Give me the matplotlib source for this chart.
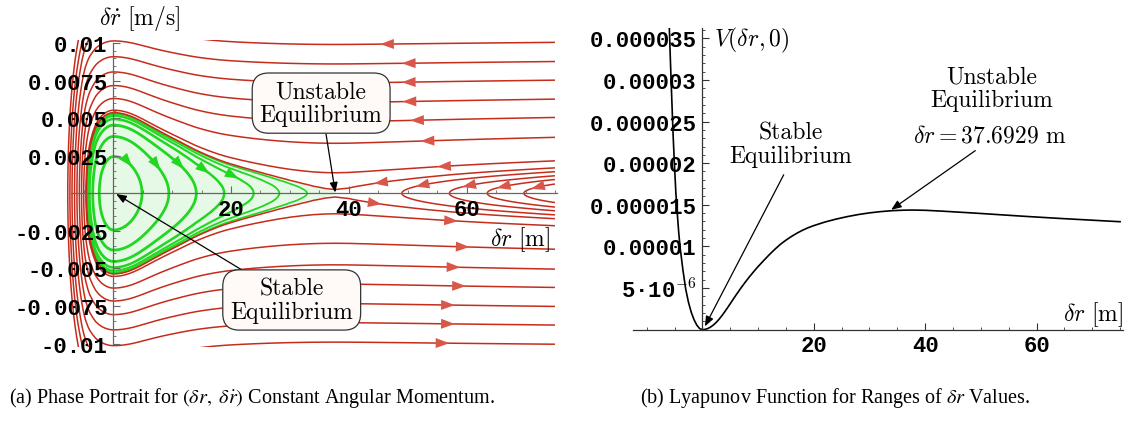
import numpy as np
import matplotlib.pyplot as plt
from matplotlib.path import Path
from matplotlib.ticker import MultipleLocator

plt.rcParams['mathtext.fontset'] = 'cm'

# V(dr, 0), V in units of 1e-5
dr = [-8.0, -7.75, -7.5, -7.25, -7.0, -6.75, -6.5, -6.25, -6.0, -5.75, -5.5, -5.25,
      -5.0, -4.75, -4.5, -4.25, -4.0, -3.5, -3.0, -2.5, -2.0, -1.5, -1.0, -0.5, 0.0,
      0.5, 1.0, 1.5, 2.0, 2.5, 3.0, 3.5, 4.0, 4.5, 5.0, 5.5, 6.0, 6.5, 7.0, 7.5, 8.0,
      8.5, 9.0, 9.5, 10, 11, 12, 13, 14, 15, 16, 17, 18, 19, 20, 22, 24, 26, 28, 30,
      32, 34, 36, 37.69, 40, 43, 46, 49, 52, 55, 58, 61, 64, 67, 70, 73, 75]
V = [9.9, 8.9, 7.98, 7.12, 6.33, 5.6, 4.93, 4.32, 3.76, 3.25, 2.78, 2.33,
     1.96, 1.63, 1.39, 1.17, 0.99, 0.72, 0.49, 0.33, 0.21, 0.12, 0.055, 0.014, 0.0,
     0.004, 0.015, 0.033, 0.058, 0.089, 0.126, 0.168, 0.214, 0.262, 0.312, 0.362, 0.412,
     0.46, 0.508, 0.553, 0.597, 0.64, 0.68, 0.72, 0.758, 0.83, 0.90, 0.965, 1.025, 1.075,
     1.12, 1.16, 1.195, 1.225, 1.25, 1.293, 1.328, 1.358, 1.383, 1.403, 1.418, 1.429,
     1.435, 1.437, 1.434, 1.424, 1.412, 1.400, 1.387, 1.374, 1.361, 1.349, 1.337, 1.326,
     1.315, 1.304, 1.297]

# energy levels (same units) of the drawn trajectories
green_E = [0.30, 0.715, 1.03, 1.22, 1.325, 1.385, 1.423]
green_arrow_x = [3.1, 7.9, 11.9, 16.1, 21.0]
red_E = [1.44, 1.53, 1.99, 2.57, 3.26, 4.13, 5.14, 6.34]
red_top_arrow_x = [45.3, 56.8, 55.6, 54.1, 53.2, 51.9, 51.0, 49.8]
red_bot_arrow_x = [44.9, 57.7, 57.4, 56.5, 55.6, 55.0, 54.4, 53.4]
left_E = [7.5, 8.8]
hairpin_E = [1.316, 1.339, 1.365, 1.400]
hairpin_arrow_x = [71.3, 65.7, 59.7, 51.8]

a_yticks = [0.01, 0.0075, 0.005, 0.0025, -0.0025, -0.005, -0.0075, -0.01]
a_ylabels = ['0.01', '0.0075', '0.005', '0.0025', '-0.0025', '-0.005', '-0.0075', '-0.01']
xticks = [20, 40, 60]
b_yticks = [5e-6, 1e-5, 1.5e-5, 2e-5, 2.5e-5, 3e-5, 3.5e-5]
b_ylabels = ['5·10$^{-6}$', '0.00001', '0.000015', '0.00002', '0.000025', '0.00003', '0.000035']

RED = '#c62c1c'
RED_HEAD = '#d9574a'
GREEN = '#22d622'
FILL = '#e6f9e6'
TICKFONT = dict(fontfamily='Liberation Mono', fontweight='bold', fontsize=16)


def pieces(path):
    verts, codes = path.vertices, path.codes
    if codes is None:
        return [verts]
    starts = list(np.nonzero(codes == Path.MOVETO)[0]) + [len(verts)]
    return [verts[starts[j]:starts[j + 1]] for j in range(len(starts) - 1)]


def arrow_on(ax, path, xa, upper, left, color):
    best = None
    for poly in pieces(path):
        for i in range(len(poly)):
            if (poly[i, 1] > 0) != upper:
                continue
            d = abs(poly[i, 0] - xa)
            if best is None or d < best[0]:
                best = (d, poly, i)
    if best is None:
        return
    _, poly, i = best
    a = poly[max(i - 2, 0)]
    b = poly[min(i + 2, len(poly) - 1)]
    if (b[0] < a[0]) != left:
        a, b = b, a
    ax.annotate('', xy=b, xytext=a, zorder=4,
                arrowprops=dict(arrowstyle='-|>,head_length=0.55,head_width=0.2',
                                color=color, lw=0, mutation_scale=18,
                                shrinkA=0, shrinkB=0))


xs = np.array(dr)
Vs = np.array(V)
vv = np.linspace(-0.0106, 0.0106, 849)
X, Y = np.meshgrid(xs, vv)
Z = 0.5 * Y ** 2 * 1e5 + Vs[None, :]
# unstable equilibrium = local max of V on the right of the origin
im = int(np.argmax(np.where(xs > 0, Vs, -1)))
Vmax = Vs[im]

fig = plt.figure(figsize=(11.35, 4.27), dpi=100)
ax1 = fig.add_axes([0.0588, 0.186, 0.4317, 0.718])
ax2 = fig.add_axes([0.5575, 0.2255, 0.4323, 0.706])

# ---- (a) phase portrait
ax1.contourf(X[:, :im + 1], Y[:, :im + 1], Z[:, :im + 1], levels=[-1, Vmax],
             colors=[FILL], zorder=1)
cg = ax1.contour(X[:, :im + 1], Y[:, :im + 1], Z[:, :im + 1], levels=green_E,
                 colors=GREEN, linewidths=[2, 2, 2, 1.8, 1.5, 1.3, 1.2], zorder=2)
cr = ax1.contour(X, Y, Z, levels=red_E, colors=RED, linewidths=1.1, zorder=2)
ax1.contour(X, Y, Z, levels=left_E, colors=RED, linewidths=1.1, zorder=2)
ch = ax1.contour(X[:, im:], Y[:, im:], Z[:, im:], levels=hairpin_E,
                 colors=RED, linewidths=1.1, zorder=2)

gp = cg.get_paths()
for k, xa in enumerate(green_arrow_x):
    arrow_on(ax1, gp[k], xa, True, False, GREEN)
rp = cr.get_paths()
for k in range(len(red_E)):
    arrow_on(ax1, rp[k], red_top_arrow_x[k], True, True, RED_HEAD)
    arrow_on(ax1, rp[k], red_bot_arrow_x[k], False, False, RED_HEAD)
hp = ch.get_paths()
for k, xa in enumerate(hairpin_arrow_x):
    arrow_on(ax1, hp[k], xa, True, True, RED_HEAD)

ax1.set_xlim(-7.9, 75.3)
ax1.set_ylim(-0.0102, 0.0102)

box = dict(boxstyle='round,pad=0.32,rounding_size=0.7', fc='#fffaf8', ec='#333333', lw=0.9)
arr = dict(arrowstyle='-|>,head_length=0.5,head_width=0.2', color='black', lw=0.9,
           mutation_scale=12, shrinkA=0, shrinkB=0)
ax1.annotate('Unstable\nEquilibrium', xy=(37.7, 0.00005), xytext=(35.3, 0.0060),
             ha='center', va='center', family='cmr10', fontsize=17, linespacing=1.05,
             bbox=box, arrowprops=arr, zorder=5)
ax1.annotate('Stable\nEquilibrium', xy=(0.5, -0.00005), xytext=(30.3, -0.0071),
             ha='center', va='center', family='cmr10', fontsize=17, linespacing=1.05,
             bbox=box, arrowprops=arr, zorder=5)
ax1.text(4.5, 0.0117, r'$\delta\dot{r}\ [\mathrm{m/s}]$', ha='center', va='center',
         fontsize=17)
ax1.text(74.2, -0.0030, r'$\delta r\ [\mathrm{m}]$', ha='right', va='center', fontsize=17)

# ---- (b) Lyapunov function
ax2.plot(xs, Vs * 1e-5, color='black', lw=1.2)
ax2.set_xlim(-12.5, 75.6)
ax2.set_ylim(0, 3.62e-5)
ax2.annotate('', xy=(0.45, 0.04e-5), xytext=(14.6, 1.86e-5), arrowprops=arr)
ax2.text(15.8, 2.23e-5, 'Stable\nEquilibrium', ha='center', va='center',
         family='cmr10', fontsize=17, linespacing=1.05)
ax2.annotate('', xy=(33.9, 1.44e-5), xytext=(49.0, 2.15e-5), arrowprops=arr)
ax2.text(51.9, 2.9e-5, 'Unstable\nEquilibrium', ha='center', va='center',
         family='cmr10', fontsize=17, linespacing=1.05)
ax2.text(51.6, 2.34e-5, r'$\delta r = 37.6929\ \mathrm{m}$', ha='center', va='center',
         fontsize=17)
ax2.text(2.0, 3.49e-5, r'$V(\delta r, 0)$', ha='left', va='center', fontsize=17)
ax2.text(75.5, 0.19e-5, r'$\delta r\ [\mathrm{m}]$', ha='right', va='center', fontsize=17)

for ax, col in ((ax1, '#666666'), (ax2, '#333333')):
    ax.spines['left'].set_position(('data', 0))
    ax.spines['bottom'].set_position(('data', 0))
    ax.spines['top'].set_visible(False)
    ax.spines['right'].set_visible(False)
    for s in ('left', 'bottom'):
        ax.spines[s].set_color(col)
        ax.spines[s].set_linewidth(0.9)
    ax.set_axisbelow(False)
    ax.tick_params(which='major', direction='in', length=5, width=0.8, color=col, pad=4)
    ax.tick_params(which='minor', direction='in', length=2.5, width=0.6, color=col)
    ax.xaxis.set_minor_locator(MultipleLocator(5))
    ax.set_xticks(xticks, [str(t) for t in xticks], **TICKFONT)

ax1.spines['left'].set_bounds(-0.01, 0.01)
ax1.spines['bottom'].set_bounds(-7.1, 75.3)
ax1.set_yticks(a_yticks, a_ylabels, **TICKFONT)
ax1.yaxis.set_minor_locator(MultipleLocator(0.0005))
ax2.set_yticks(b_yticks, b_ylabels, **TICKFONT)
ax2.yaxis.set_minor_locator(MultipleLocator(1e-6))

fig.text(0.222, 0.068,
         r'(a) Phase Portrait for $(\delta r,\ \delta\dot{r})$ Constant Angular Momentum.',
         ha='center', va='center', family='Liberation Serif', fontsize=14.5,
         math_fontfamily='stix')
fig.text(0.7357, 0.068, r'(b) Lyapunov Function for Ranges of $\delta r$ Values.',
         ha='center', va='center', family='Liberation Serif', fontsize=14.5,
         math_fontfamily='stix')

fig.savefig('out.png', dpi=100)
